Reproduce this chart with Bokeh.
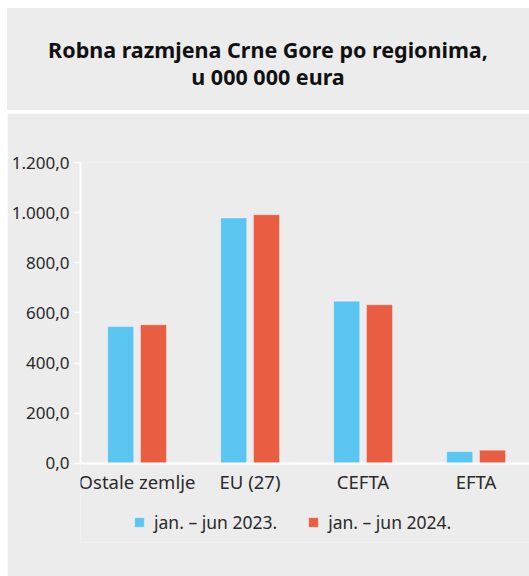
from bokeh.plotting import figure
from bokeh.models import ColumnDataSource, FixedTicker, Legend, LegendItem, Range1d, Div
from bokeh.layouts import column
from bokeh.transform import dodge
from bokeh.embed import file_html
from bokeh.resources import INLINE

categories = ["Ostale zemlje", "EU (27)", "CEFTA", "EFTA"]
values_2023 = [546, 979, 647, 47]
values_2024 = [553, 992, 633, 53]
series_names = ["jan. – jun 2023.", "jan. – jun 2024."]
tick_values = [0, 200, 400, 600, 800, 1000, 1200]
tick_labels = ["0,0", "200,0", "400,0", "600,0", "800,0", "1.000,0", "1.200,0"]
title_lines = ["Robna razmjena Crne Gore po regionima,", "u 000 000 eura"]

BG = "#ececec"
BLUE = "#5bc5f2"
RED = "#e95e43"
TXT = "#2a2a2a"
FONT = "Noto Sans"

W = 522

# Title panel (HTML text)
title = Div(text="<br>".join(title_lines), width=W, height=102, margin=(8, 0, 0, 7),
            styles={"background-color": BG, "font-family": FONT, "font-weight": "bold",
                    "font-size": "21.5px", "color": "#111111", "text-align": "center",
                    "line-height": "27px", "padding-top": "28px", "box-sizing": "border-box"})

# Chart panel
xs = [i + 0.5 for i in range(len(categories))]
src = ColumnDataSource(dict(x=xs, y2023=values_2023, y2024=values_2024))
p = figure(width=W, height=463, frame_width=449, frame_height=380,
           output_backend="svg", toolbar_location=None,
           x_range=Range1d(0, 449 / 113), y_range=Range1d(-315, 1200),
           min_border_left=73, min_border_right=0, min_border_top=49, min_border_bottom=34,
           background_fill_color=BG, border_fill_color=BG, margin=(3, 0, 0, 7))
p.outline_line_color = None
p.grid.visible = False

r1 = p.vbar(x=dodge("x", -0.144), top="y2023", width=0.23, source=src,
            fill_color=BLUE, line_color="white", line_alpha=0.35)
r2 = p.vbar(x=dodge("x", 0.146), top="y2024", width=0.23, source=src,
            fill_color=RED, line_color="white", line_alpha=0.35)

p.yaxis.ticker = FixedTicker(ticks=tick_values)
p.yaxis.major_label_overrides = {v: l for v, l in zip(tick_values, tick_labels)}
p.yaxis.bounds = (0, 1200)
p.xaxis.ticker = FixedTicker(ticks=xs)
p.xaxis.major_label_overrides = {x: c for x, c in zip(xs, categories)}
p.xaxis.fixed_location = 0
for ax in (p.xaxis, p.yaxis):
    ax.axis_line_color = "white"
    ax.axis_line_width = 2
    ax.major_tick_line_color = "white"
    ax.major_tick_line_width = 1.5
    ax.minor_tick_line_color = None
    ax.major_label_text_font = FONT
    ax.major_label_text_color = TXT
p.yaxis.major_label_text_font_size = "17px"
p.xaxis.major_label_text_font_size = "18.5px"
p.yaxis.major_tick_out = 7
p.yaxis.major_tick_in = 0
p.yaxis.major_label_standoff = 4
p.xaxis.major_tick_out = 0
p.xaxis.major_tick_in = 0
p.xaxis.major_label_standoff = 6

legend = Legend(items=[LegendItem(label=series_names[0], renderers=[r1]),
                       LegendItem(label=series_names[1], renderers=[r2])],
                orientation="horizontal", location=(53, 8),
                glyph_width=12, glyph_height=12, label_height=12, label_standoff=9,
                spacing=30, padding=0, margin=0, border_line_color=None,
                background_fill_alpha=0, label_text_font=FONT,
                label_text_font_size="17.5px", label_text_color=TXT)
p.add_layout(legend, "center")

layout = column(title, p, spacing=0)
open("out.html", "w").write(file_html(layout, INLINE))
